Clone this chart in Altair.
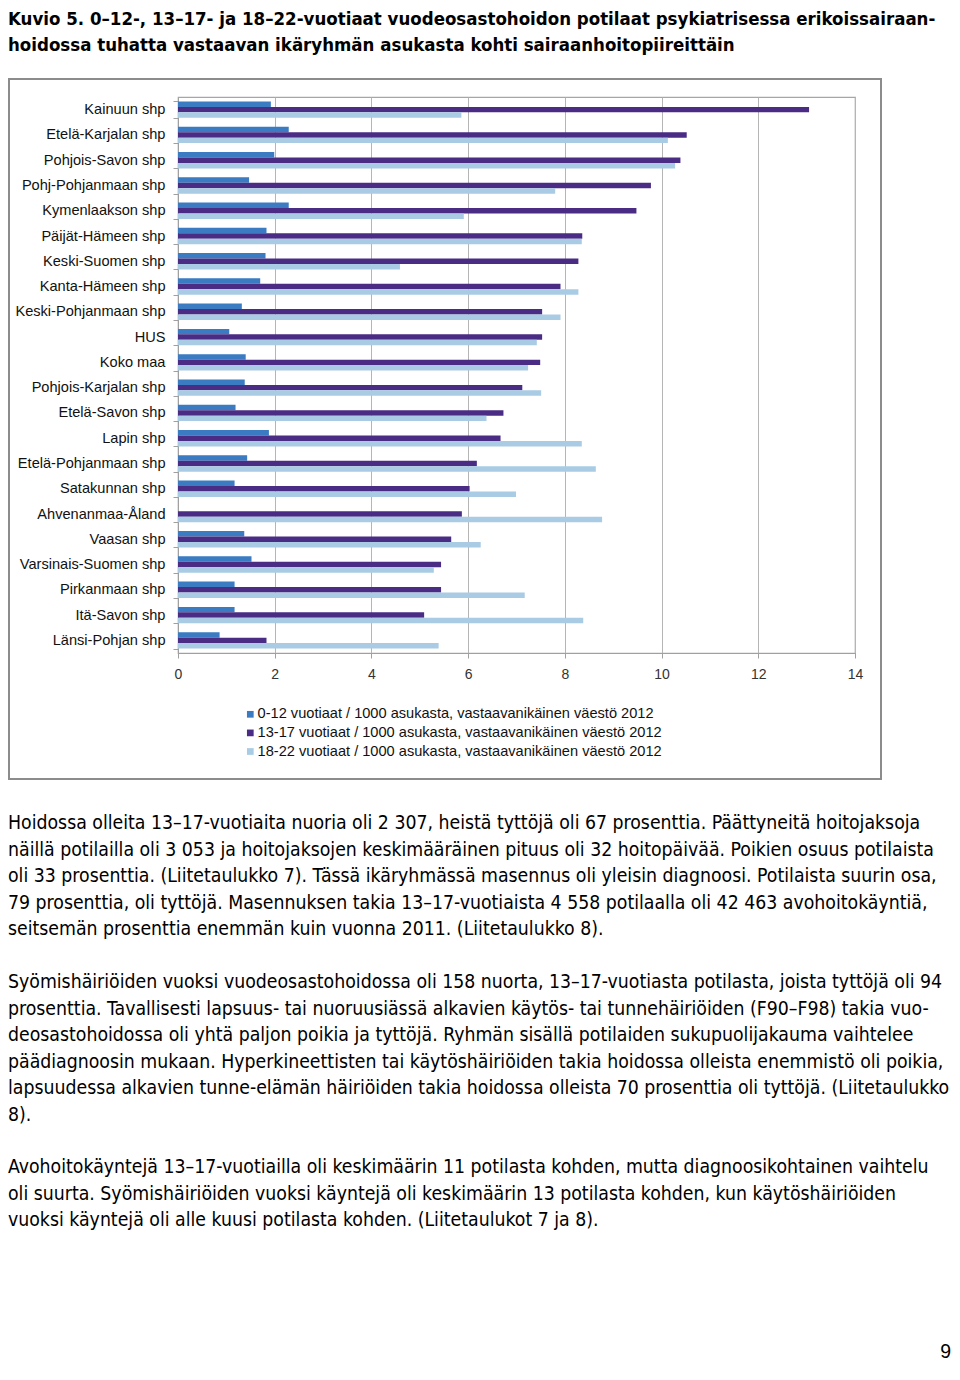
import altair as alt
import pandas as pd

categories = ["Kainuun shp", "Etelä-Karjalan shp", "Pohjois-Savon shp", "Pohj-Pohjanmaan shp",
              "Kymenlaakson shp", "Päijät-Hämeen shp", "Keski-Suomen shp", "Kanta-Hämeen shp",
              "Keski-Pohjanmaan shp", "HUS", "Koko maa", "Pohjois-Karjalan shp", "Etelä-Savon shp",
              "Lapin shp", "Etelä-Pohjanmaan shp", "Satakunnan shp", "Ahvenanmaa-Åland",
              "Vaasan shp", "Varsinais-Suomen shp", "Pirkanmaan shp", "Itä-Savon shp",
              "Länsi-Pohjan shp"]

age_0_12 = [1.92, 2.29, 1.99, 1.47, 2.29, 1.83, 1.81, 1.70, 1.32, 1.06, 1.40,
            1.38, 1.19, 1.88, 1.43, 1.17, 0.0, 1.37, 1.52, 1.17, 1.17, 0.86]
age_13_17 = [13.05, 10.52, 10.39, 9.78, 9.48, 8.36, 8.28, 7.91, 7.53, 7.53, 7.49,
             7.12, 6.73, 6.67, 6.18, 6.03, 5.87, 5.65, 5.44, 5.44, 5.09, 1.83]
age_18_22 = [5.86, 10.13, 10.28, 7.80, 5.91, 8.35, 4.59, 8.28, 7.91, 7.42, 7.24,
             7.51, 6.38, 8.35, 8.64, 6.99, 8.77, 6.26, 5.29, 7.17, 8.38, 5.39]

series_names = ["0-12 vuotiaat / 1000 asukasta, vastaavanikäinen väestö 2012",
                "13-17 vuotiaat / 1000 asukasta, vastaavanikäinen väestö 2012",
                "18-22 vuotiaat / 1000 asukasta, vastaavanikäinen väestö 2012"]
series_colors = ["#3A7BC2", "#4A2C84", "#A9CCE4"]

x_ticks = [0, 2, 4, 6, 8, 10, 12, 14]

title_lines = ["Kuvio 5. 0–12-, 13–17- ja 18–22-vuotiaat vuodeosastohoidon potilaat psykiatrisessa erikoissairaan-",
               "hoidossa tuhatta vastaavan ikäryhmän asukasta kohti sairaanhoitopiireittäin"]
para1 = ["Hoidossa olleita 13–17-vuotiaita nuoria oli 2 307, heistä tyttöjä oli 67 prosenttia. Päättyneitä hoitojaksoja",
         "näillä potilailla oli 3 053 ja hoitojaksojen keskimääräinen pituus oli 32 hoitopäivää. Poikien osuus potilaista",
         "oli 33 prosenttia. (Liitetaulukko 7). Tässä ikäryhmässä masennus oli yleisin diagnoosi. Potilaista suurin osa,",
         "79 prosenttia, oli tyttöjä. Masennuksen takia 13–17-vuotiaista 4 558 potilaalla oli 42 463 avohoitokäyntiä,",
         "seitsemän prosenttia enemmän kuin vuonna 2011. (Liitetaulukko 8)."]
para2 = ["Syömishäiriöiden vuoksi vuodeosastohoidossa oli 158 nuorta, 13–17-vuotiasta potilasta, joista tyttöjä oli 94",
         "prosenttia. Tavallisesti lapsuus- tai nuoruusiässä alkavien käytös- tai tunnehäiriöiden (F90–F98) takia vuo-",
         "deosastohoidossa oli yhtä paljon poikia ja tyttöjä. Ryhmän sisällä potilaiden sukupuolijakauma vaihtelee",
         "päädiagnoosin mukaan. Hyperkineettisten tai käytöshäiriöiden takia hoidossa olleista enemmistö oli poikia,",
         "lapsuudessa alkavien tunne-elämän häiriöiden takia hoidossa olleista 70 prosenttia oli tyttöjä. (Liitetaulukko",
         "8)."]
para3 = ["Avohoitokäyntejä 13–17-vuotiailla oli keskimäärin 11 potilasta kohden, mutta diagnoosikohtainen vaihtelu",
         "oli suurta. Syömishäiriöiden vuoksi käyntejä oli keskimäärin 13 potilasta kohden, kun käytöshäiriöiden",
         "vuoksi käyntejä oli alle kuusi potilasta kohden. (Liitetaulukot 7 ja 8)."]
page_number = "9"

rows = []
for name, vals in zip(series_names, [age_0_12, age_13_17, age_18_22]):
    for cat, v in zip(categories, vals):
        rows.append({"alue": cat, "sarja": name, "arvo": v})
df = pd.DataFrame(rows)

W, H = 677, 556
FONT = "Liberation Sans"
BODY_FONT = "DejaVu Sans Condensed, Liberation Sans"
one = pd.DataFrame({"k": [0]})

bars = alt.Chart(df).mark_bar().encode(
    x=alt.X("arvo:Q", scale=alt.Scale(domain=[0, 14], nice=False),
            axis=alt.Axis(values=x_ticks, title=None, grid=True, gridColor="#B5B5B5",
                          tickSize=5, labelPadding=9, labelFontSize=14, labelColor="#333333",
                          labelFlush=False,
                          domainColor="#A0A0A0", tickColor="#A0A0A0", labelFont=FONT)),
    y=alt.Y("alue:N", sort=categories,
            scale=alt.Scale(paddingInner=0.35, paddingOuter=0.175),
            axis=alt.Axis(title=None, tickBand="extent", tickSize=5, labelPadding=8,
                          labelFontSize=14.6, labelColor="#111111", labelFont=FONT,
                          domainColor="#A0A0A0", tickColor="#A0A0A0", labelLimit=300)),
    yOffset=alt.YOffset("sarja:N", sort=series_names,
                        scale=alt.Scale(paddingInner=0, paddingOuter=0)),
    color=alt.Color("sarja:N", sort=series_names,
                    scale=alt.Scale(domain=series_names, range=series_colors),
                    legend=alt.Legend(orient="none", legendX=65, legendY=610, title=None,
                                      symbolType="square", symbolSize=45, symbolStrokeWidth=0,
                                      labelFontSize=14.6, labelFont=FONT, labelColor="#111111",
                                      labelOffset=0, rowPadding=3.6, padding=0, labelLimit=600)),
)

border = alt.Chart(one).mark_rect(fillOpacity=0, stroke="#8C8C8C", strokeWidth=2).encode(
    x=alt.value(-169), x2=alt.value(703), y=alt.value(-18), y2=alt.value(682))


def text_block(lines, x, y, size, weight="normal", align="left", font=BODY_FONT, lh=26.5):
    return alt.Chart(one).mark_text(text=lines, align=align, baseline="alphabetic", font=font,
                                    fontSize=size, fontWeight=weight, lineHeight=lh,
                                    color="#000000").encode(x=alt.value(x), y=alt.value(y))


title = text_block(title_lines, -170, -72, 18.5, weight="bold", lh=25.5)
p1 = text_block(para1, -170, 732, 19.3)
p2 = text_block(para2, -170, 891, 19.3)
p3 = text_block(para3, -170, 1076, 19.3)
pn = text_block([page_number], 773, 1261, 19.5, align="right", font=FONT)

chart = alt.layer(border, bars, title, p1, p2, p3, pn).properties(
    width=W, height=H,
    autosize=alt.AutoSizeParams(type="none"),
    padding={"left": 170, "top": 89, "right": 97, "bottom": 711},
).configure_view(stroke="#A6A6A6", strokeWidth=1.2)

chart.save("out.html", embed_options={"renderer": "svg", "actions": False})
